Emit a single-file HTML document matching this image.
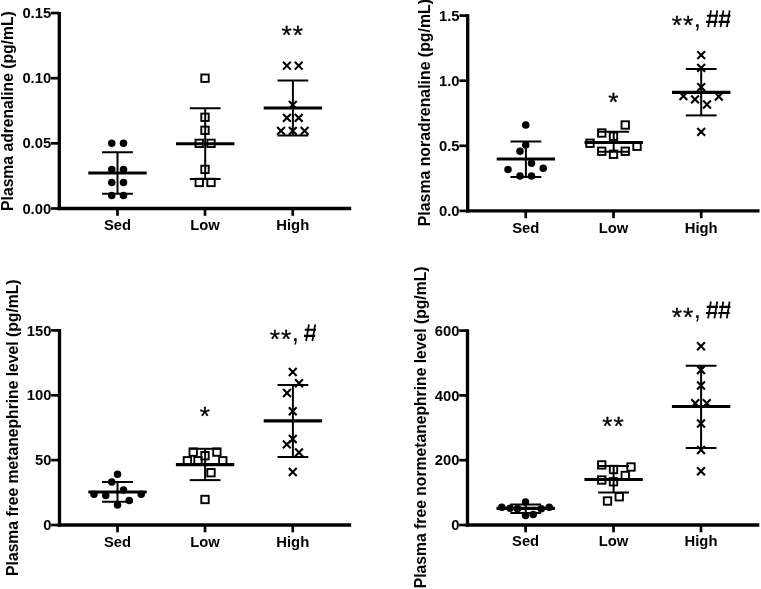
<!DOCTYPE html>
<html><head><meta charset="utf-8"><title>Plasma catecholamines</title>
<style>
html,body{margin:0;padding:0;background:#fff;}
body{width:761px;height:589px;overflow:hidden;}
svg{display:block;will-change:transform;filter:grayscale(1);font-family:"Liberation Sans",sans-serif;fill:#000;}
</style></head><body>
<svg width="761" height="589" viewBox="0 0 761 589">
<rect width="761" height="589" fill="#fff"/>
<line x1="59.30" y1="11.95" x2="59.30" y2="210.15" stroke="#000" stroke-width="3.3" stroke-linecap="butt"/>
<line x1="57.65" y1="208.50" x2="351.20" y2="208.50" stroke="#000" stroke-width="3.3" stroke-linecap="butt"/>
<line x1="51.00" y1="13.05" x2="59.30" y2="13.05" stroke="#000" stroke-width="2.7" stroke-linecap="butt"/>
<text x="51.20" y="18.15" font-size="14.8" font-weight="bold" text-anchor="end" >0.15</text>
<line x1="51.00" y1="78.20" x2="59.30" y2="78.20" stroke="#000" stroke-width="2.7" stroke-linecap="butt"/>
<text x="51.20" y="83.30" font-size="14.8" font-weight="bold" text-anchor="end" >0.10</text>
<line x1="51.00" y1="143.35" x2="59.30" y2="143.35" stroke="#000" stroke-width="2.7" stroke-linecap="butt"/>
<text x="51.20" y="148.45" font-size="14.8" font-weight="bold" text-anchor="end" >0.05</text>
<line x1="51.00" y1="208.50" x2="59.30" y2="208.50" stroke="#000" stroke-width="2.7" stroke-linecap="butt"/>
<text x="51.20" y="213.60" font-size="14.8" font-weight="bold" text-anchor="end" >0.00</text>
<line x1="117.50" y1="208.50" x2="117.50" y2="215.80" stroke="#000" stroke-width="2.7" stroke-linecap="butt"/>
<text x="117.50" y="230.20" font-size="14.8" font-weight="bold" text-anchor="middle" >Sed</text>
<line x1="205.00" y1="208.50" x2="205.00" y2="215.80" stroke="#000" stroke-width="2.7" stroke-linecap="butt"/>
<text x="205.00" y="230.20" font-size="14.8" font-weight="bold" text-anchor="middle" >Low</text>
<line x1="292.75" y1="208.50" x2="292.75" y2="215.80" stroke="#000" stroke-width="2.7" stroke-linecap="butt"/>
<text x="292.75" y="230.20" font-size="14.8" font-weight="bold" text-anchor="middle" >High</text>
<text transform="translate(13.20,210.90) rotate(-90)" font-size="15.7" font-weight="bold" text-anchor="start">Plasma adrenaline (pg/mL)</text>
<line x1="117.50" y1="152.25" x2="117.50" y2="193.75" stroke="#000" stroke-width="2.0" stroke-linecap="butt"/>
<line x1="102.10" y1="152.25" x2="132.90" y2="152.25" stroke="#000" stroke-width="2.0" stroke-linecap="butt"/>
<line x1="102.10" y1="193.75" x2="132.90" y2="193.75" stroke="#000" stroke-width="2.0" stroke-linecap="butt"/>
<line x1="88.30" y1="173.00" x2="146.70" y2="173.00" stroke="#000" stroke-width="3.2" stroke-linecap="butt"/>
<circle cx="111.75" cy="143.35" r="3.75" fill="#000"/>
<circle cx="123.50" cy="143.35" r="3.75" fill="#000"/>
<circle cx="111.75" cy="169.41" r="3.75" fill="#000"/>
<circle cx="123.50" cy="169.41" r="3.75" fill="#000"/>
<circle cx="111.75" cy="182.44" r="3.75" fill="#000"/>
<circle cx="123.50" cy="182.44" r="3.75" fill="#000"/>
<circle cx="111.75" cy="195.47" r="3.75" fill="#000"/>
<circle cx="123.50" cy="195.47" r="3.75" fill="#000"/>
<line x1="205.20" y1="108.25" x2="205.20" y2="179.00" stroke="#000" stroke-width="2.0" stroke-linecap="butt"/>
<line x1="189.80" y1="108.25" x2="220.60" y2="108.25" stroke="#000" stroke-width="2.0" stroke-linecap="butt"/>
<line x1="189.80" y1="179.00" x2="220.60" y2="179.00" stroke="#000" stroke-width="2.0" stroke-linecap="butt"/>
<line x1="176.00" y1="143.75" x2="234.40" y2="143.75" stroke="#000" stroke-width="3.2" stroke-linecap="butt"/>
<rect x="201.30" y="74.50" width="7.4" height="7.4" fill="none" stroke="#000" stroke-width="1.9"/>
<rect x="201.30" y="113.59" width="7.4" height="7.4" fill="none" stroke="#000" stroke-width="1.9"/>
<rect x="201.30" y="126.62" width="7.4" height="7.4" fill="none" stroke="#000" stroke-width="1.9"/>
<rect x="195.55" y="139.65" width="7.4" height="7.4" fill="none" stroke="#000" stroke-width="1.9"/>
<rect x="207.30" y="139.65" width="7.4" height="7.4" fill="none" stroke="#000" stroke-width="1.9"/>
<rect x="201.30" y="165.71" width="7.4" height="7.4" fill="none" stroke="#000" stroke-width="1.9"/>
<rect x="195.55" y="178.74" width="7.4" height="7.4" fill="none" stroke="#000" stroke-width="1.9"/>
<rect x="207.30" y="178.74" width="7.4" height="7.4" fill="none" stroke="#000" stroke-width="1.9"/>
<line x1="292.90" y1="80.50" x2="292.90" y2="135.50" stroke="#000" stroke-width="2.0" stroke-linecap="butt"/>
<line x1="277.50" y1="80.50" x2="308.30" y2="80.50" stroke="#000" stroke-width="2.0" stroke-linecap="butt"/>
<line x1="277.50" y1="135.50" x2="308.30" y2="135.50" stroke="#000" stroke-width="2.0" stroke-linecap="butt"/>
<line x1="263.70" y1="108.00" x2="322.10" y2="108.00" stroke="#000" stroke-width="3.2" stroke-linecap="butt"/>
<path d="M283.00 61.82L290.80 69.62M283.00 69.62L290.80 61.82" stroke="#000" stroke-width="2.1" fill="none"/>
<path d="M294.80 61.82L302.60 69.62M294.80 69.62L302.60 61.82" stroke="#000" stroke-width="2.1" fill="none"/>
<path d="M288.90 100.91L296.70 108.71M288.90 108.71L296.70 100.91" stroke="#000" stroke-width="2.1" fill="none"/>
<path d="M283.00 113.94L290.80 121.74M283.00 121.74L290.80 113.94" stroke="#000" stroke-width="2.1" fill="none"/>
<path d="M294.80 113.94L302.60 121.74M294.80 121.74L302.60 113.94" stroke="#000" stroke-width="2.1" fill="none"/>
<path d="M277.10 126.97L284.90 134.77M277.10 134.77L284.90 126.97" stroke="#000" stroke-width="2.1" fill="none"/>
<path d="M288.90 126.97L296.70 134.77M288.90 134.77L296.70 126.97" stroke="#000" stroke-width="2.1" fill="none"/>
<path d="M300.70 126.97L308.50 134.77M300.70 134.77L308.50 126.97" stroke="#000" stroke-width="2.1" fill="none"/>
<line x1="467.70" y1="14.25" x2="467.70" y2="212.55" stroke="#000" stroke-width="3.3" stroke-linecap="butt"/>
<line x1="466.05" y1="210.90" x2="759.50" y2="210.90" stroke="#000" stroke-width="3.3" stroke-linecap="butt"/>
<line x1="459.40" y1="15.60" x2="467.70" y2="15.60" stroke="#000" stroke-width="2.7" stroke-linecap="butt"/>
<text x="459.60" y="20.70" font-size="14.8" font-weight="bold" text-anchor="end" >1.5</text>
<line x1="459.40" y1="80.70" x2="467.70" y2="80.70" stroke="#000" stroke-width="2.7" stroke-linecap="butt"/>
<text x="459.60" y="85.80" font-size="14.8" font-weight="bold" text-anchor="end" >1.0</text>
<line x1="459.40" y1="145.80" x2="467.70" y2="145.80" stroke="#000" stroke-width="2.7" stroke-linecap="butt"/>
<text x="459.60" y="150.90" font-size="14.8" font-weight="bold" text-anchor="end" >0.5</text>
<line x1="459.40" y1="210.90" x2="467.70" y2="210.90" stroke="#000" stroke-width="2.7" stroke-linecap="butt"/>
<text x="459.60" y="216.00" font-size="14.8" font-weight="bold" text-anchor="end" >0.0</text>
<line x1="525.75" y1="210.90" x2="525.75" y2="218.20" stroke="#000" stroke-width="2.7" stroke-linecap="butt"/>
<text x="525.75" y="232.80" font-size="14.8" font-weight="bold" text-anchor="middle" >Sed</text>
<line x1="613.50" y1="210.90" x2="613.50" y2="218.20" stroke="#000" stroke-width="2.7" stroke-linecap="butt"/>
<text x="613.50" y="232.80" font-size="14.8" font-weight="bold" text-anchor="middle" >Low</text>
<line x1="701.20" y1="210.90" x2="701.20" y2="218.20" stroke="#000" stroke-width="2.7" stroke-linecap="butt"/>
<text x="701.20" y="232.80" font-size="14.8" font-weight="bold" text-anchor="middle" >High</text>
<text transform="translate(429.50,226.20) rotate(-90)" font-size="15.85" font-weight="bold" text-anchor="start">Plasma noradrenaline (pg/mL)</text>
<line x1="525.90" y1="141.50" x2="525.90" y2="177.00" stroke="#000" stroke-width="2.0" stroke-linecap="butt"/>
<line x1="510.50" y1="141.50" x2="541.30" y2="141.50" stroke="#000" stroke-width="2.0" stroke-linecap="butt"/>
<line x1="510.50" y1="177.00" x2="541.30" y2="177.00" stroke="#000" stroke-width="2.0" stroke-linecap="butt"/>
<line x1="496.70" y1="159.00" x2="555.10" y2="159.00" stroke="#000" stroke-width="3.2" stroke-linecap="butt"/>
<circle cx="525.75" cy="125.00" r="3.75" fill="#000"/>
<circle cx="525.75" cy="145.00" r="3.75" fill="#000"/>
<circle cx="520.00" cy="151.25" r="3.75" fill="#000"/>
<circle cx="531.50" cy="163.25" r="3.75" fill="#000"/>
<circle cx="508.00" cy="169.50" r="3.75" fill="#000"/>
<circle cx="543.25" cy="168.25" r="3.75" fill="#000"/>
<circle cx="520.00" cy="176.00" r="3.75" fill="#000"/>
<circle cx="531.50" cy="176.00" r="3.75" fill="#000"/>
<line x1="613.70" y1="131.75" x2="613.70" y2="151.75" stroke="#000" stroke-width="2.0" stroke-linecap="butt"/>
<line x1="598.30" y1="131.75" x2="629.10" y2="131.75" stroke="#000" stroke-width="2.0" stroke-linecap="butt"/>
<line x1="598.30" y1="151.75" x2="629.10" y2="151.75" stroke="#000" stroke-width="2.0" stroke-linecap="butt"/>
<line x1="584.50" y1="142.50" x2="642.90" y2="142.50" stroke="#000" stroke-width="3.2" stroke-linecap="butt"/>
<rect x="621.55" y="121.30" width="7.4" height="7.4" fill="none" stroke="#000" stroke-width="1.9"/>
<rect x="598.05" y="129.30" width="7.4" height="7.4" fill="none" stroke="#000" stroke-width="1.9"/>
<rect x="609.80" y="132.55" width="7.4" height="7.4" fill="none" stroke="#000" stroke-width="1.9"/>
<rect x="586.30" y="139.55" width="7.4" height="7.4" fill="none" stroke="#000" stroke-width="1.9"/>
<rect x="633.30" y="142.55" width="7.4" height="7.4" fill="none" stroke="#000" stroke-width="1.9"/>
<rect x="598.05" y="147.55" width="7.4" height="7.4" fill="none" stroke="#000" stroke-width="1.9"/>
<rect x="621.55" y="147.55" width="7.4" height="7.4" fill="none" stroke="#000" stroke-width="1.9"/>
<rect x="609.80" y="150.55" width="7.4" height="7.4" fill="none" stroke="#000" stroke-width="1.9"/>
<line x1="701.20" y1="69.00" x2="701.20" y2="115.40" stroke="#000" stroke-width="2.0" stroke-linecap="butt"/>
<line x1="685.80" y1="69.00" x2="716.60" y2="69.00" stroke="#000" stroke-width="2.0" stroke-linecap="butt"/>
<line x1="685.80" y1="115.40" x2="716.60" y2="115.40" stroke="#000" stroke-width="2.0" stroke-linecap="butt"/>
<line x1="672.00" y1="92.40" x2="730.40" y2="92.40" stroke="#000" stroke-width="3.2" stroke-linecap="butt"/>
<path d="M697.30 51.25L705.10 59.05M697.30 59.05L705.10 51.25" stroke="#000" stroke-width="2.1" fill="none"/>
<path d="M697.30 64.00L705.10 71.80M697.30 71.80L705.10 64.00" stroke="#000" stroke-width="2.1" fill="none"/>
<path d="M697.30 83.30L705.10 91.10M697.30 91.10L705.10 83.30" stroke="#000" stroke-width="2.1" fill="none"/>
<path d="M679.50 92.20L687.30 100.00M679.50 100.00L687.30 92.20" stroke="#000" stroke-width="2.1" fill="none"/>
<path d="M714.90 92.60L722.70 100.40M714.90 100.40L722.70 92.60" stroke="#000" stroke-width="2.1" fill="none"/>
<path d="M691.10 95.40L698.90 103.20M691.10 103.20L698.90 95.40" stroke="#000" stroke-width="2.1" fill="none"/>
<path d="M703.10 100.60L710.90 108.40M703.10 108.40L710.90 100.60" stroke="#000" stroke-width="2.1" fill="none"/>
<path d="M697.30 127.90L705.10 135.70M697.30 135.70L705.10 127.90" stroke="#000" stroke-width="2.1" fill="none"/>
<line x1="59.50" y1="329.05" x2="59.50" y2="526.65" stroke="#000" stroke-width="3.3" stroke-linecap="butt"/>
<line x1="57.85" y1="525.00" x2="351.20" y2="525.00" stroke="#000" stroke-width="3.3" stroke-linecap="butt"/>
<line x1="51.20" y1="330.40" x2="59.50" y2="330.40" stroke="#000" stroke-width="2.7" stroke-linecap="butt"/>
<text x="51.40" y="335.50" font-size="14.8" font-weight="bold" text-anchor="end" >150</text>
<line x1="51.20" y1="395.30" x2="59.50" y2="395.30" stroke="#000" stroke-width="2.7" stroke-linecap="butt"/>
<text x="51.40" y="400.40" font-size="14.8" font-weight="bold" text-anchor="end" >100</text>
<line x1="51.20" y1="460.10" x2="59.50" y2="460.10" stroke="#000" stroke-width="2.7" stroke-linecap="butt"/>
<text x="51.40" y="465.20" font-size="14.8" font-weight="bold" text-anchor="end" >50</text>
<line x1="51.20" y1="525.00" x2="59.50" y2="525.00" stroke="#000" stroke-width="2.7" stroke-linecap="butt"/>
<text x="51.40" y="530.10" font-size="14.8" font-weight="bold" text-anchor="end" >0</text>
<line x1="117.50" y1="525.00" x2="117.50" y2="532.30" stroke="#000" stroke-width="2.7" stroke-linecap="butt"/>
<text x="117.50" y="546.60" font-size="14.8" font-weight="bold" text-anchor="middle" >Sed</text>
<line x1="205.00" y1="525.00" x2="205.00" y2="532.30" stroke="#000" stroke-width="2.7" stroke-linecap="butt"/>
<text x="205.00" y="546.60" font-size="14.8" font-weight="bold" text-anchor="middle" >Low</text>
<line x1="292.75" y1="525.00" x2="292.75" y2="532.30" stroke="#000" stroke-width="2.7" stroke-linecap="butt"/>
<text x="292.75" y="546.60" font-size="14.8" font-weight="bold" text-anchor="middle" >High</text>
<text transform="translate(17.80,575.90) rotate(-90)" font-size="15.7" font-weight="bold" text-anchor="start">Plasma free metanephrine level (pg/mL)</text>
<line x1="117.50" y1="482.00" x2="117.50" y2="501.75" stroke="#000" stroke-width="2.0" stroke-linecap="butt"/>
<line x1="102.10" y1="482.00" x2="132.90" y2="482.00" stroke="#000" stroke-width="2.0" stroke-linecap="butt"/>
<line x1="102.10" y1="501.75" x2="132.90" y2="501.75" stroke="#000" stroke-width="2.0" stroke-linecap="butt"/>
<line x1="88.30" y1="492.00" x2="146.70" y2="492.00" stroke="#000" stroke-width="3.2" stroke-linecap="butt"/>
<circle cx="117.50" cy="474.25" r="3.75" fill="#000"/>
<circle cx="111.75" cy="482.00" r="3.75" fill="#000"/>
<circle cx="123.50" cy="490.00" r="3.75" fill="#000"/>
<circle cx="94.00" cy="494.25" r="3.75" fill="#000"/>
<circle cx="141.25" cy="494.25" r="3.75" fill="#000"/>
<circle cx="105.75" cy="495.50" r="3.75" fill="#000"/>
<circle cx="129.25" cy="500.50" r="3.75" fill="#000"/>
<circle cx="117.50" cy="505.00" r="3.75" fill="#000"/>
<line x1="205.10" y1="448.80" x2="205.10" y2="480.10" stroke="#000" stroke-width="2.0" stroke-linecap="butt"/>
<line x1="189.70" y1="448.80" x2="220.50" y2="448.80" stroke="#000" stroke-width="2.0" stroke-linecap="butt"/>
<line x1="189.70" y1="480.10" x2="220.50" y2="480.10" stroke="#000" stroke-width="2.0" stroke-linecap="butt"/>
<line x1="175.90" y1="464.70" x2="234.30" y2="464.70" stroke="#000" stroke-width="3.2" stroke-linecap="butt"/>
<rect x="189.50" y="448.40" width="7.4" height="7.4" fill="none" stroke="#000" stroke-width="1.9"/>
<rect x="213.20" y="448.40" width="7.4" height="7.4" fill="none" stroke="#000" stroke-width="1.9"/>
<rect x="201.30" y="452.00" width="7.4" height="7.4" fill="none" stroke="#000" stroke-width="1.9"/>
<rect x="183.70" y="457.10" width="7.4" height="7.4" fill="none" stroke="#000" stroke-width="1.9"/>
<rect x="194.30" y="457.10" width="7.4" height="7.4" fill="none" stroke="#000" stroke-width="1.9"/>
<rect x="219.10" y="457.10" width="7.4" height="7.4" fill="none" stroke="#000" stroke-width="1.9"/>
<rect x="207.30" y="469.00" width="7.4" height="7.4" fill="none" stroke="#000" stroke-width="1.9"/>
<rect x="201.30" y="495.80" width="7.4" height="7.4" fill="none" stroke="#000" stroke-width="1.9"/>
<line x1="292.90" y1="385.00" x2="292.90" y2="457.00" stroke="#000" stroke-width="2.0" stroke-linecap="butt"/>
<line x1="277.50" y1="385.00" x2="308.30" y2="385.00" stroke="#000" stroke-width="2.0" stroke-linecap="butt"/>
<line x1="277.50" y1="457.00" x2="308.30" y2="457.00" stroke="#000" stroke-width="2.0" stroke-linecap="butt"/>
<line x1="263.70" y1="420.90" x2="322.10" y2="420.90" stroke="#000" stroke-width="3.2" stroke-linecap="butt"/>
<path d="M288.85 368.10L296.65 375.90M288.85 375.90L296.65 368.10" stroke="#000" stroke-width="2.1" fill="none"/>
<path d="M295.10 379.35L302.90 387.15M295.10 387.15L302.90 379.35" stroke="#000" stroke-width="2.1" fill="none"/>
<path d="M283.10 389.10L290.90 396.90M283.10 396.90L290.90 389.10" stroke="#000" stroke-width="2.1" fill="none"/>
<path d="M288.85 407.35L296.65 415.15M288.85 415.15L296.65 407.35" stroke="#000" stroke-width="2.1" fill="none"/>
<path d="M288.85 435.10L296.65 442.90M288.85 442.90L296.65 435.10" stroke="#000" stroke-width="2.1" fill="none"/>
<path d="M282.90 440.50L290.70 448.30M282.90 448.30L290.70 440.50" stroke="#000" stroke-width="2.1" fill="none"/>
<path d="M295.10 448.60L302.90 456.40M295.10 456.40L302.90 448.60" stroke="#000" stroke-width="2.1" fill="none"/>
<path d="M288.85 468.10L296.65 475.90M288.85 475.90L296.65 468.10" stroke="#000" stroke-width="2.1" fill="none"/>
<line x1="467.50" y1="329.25" x2="467.50" y2="526.65" stroke="#000" stroke-width="3.3" stroke-linecap="butt"/>
<line x1="465.85" y1="525.00" x2="759.30" y2="525.00" stroke="#000" stroke-width="3.3" stroke-linecap="butt"/>
<line x1="459.20" y1="330.60" x2="467.50" y2="330.60" stroke="#000" stroke-width="2.7" stroke-linecap="butt"/>
<text x="459.50" y="335.70" font-size="14.8" font-weight="bold" text-anchor="end" >600</text>
<line x1="459.20" y1="395.40" x2="467.50" y2="395.40" stroke="#000" stroke-width="2.7" stroke-linecap="butt"/>
<text x="459.50" y="400.50" font-size="14.8" font-weight="bold" text-anchor="end" >400</text>
<line x1="459.20" y1="460.20" x2="467.50" y2="460.20" stroke="#000" stroke-width="2.7" stroke-linecap="butt"/>
<text x="459.50" y="465.30" font-size="14.8" font-weight="bold" text-anchor="end" >200</text>
<line x1="459.20" y1="525.00" x2="467.50" y2="525.00" stroke="#000" stroke-width="2.7" stroke-linecap="butt"/>
<text x="459.50" y="530.10" font-size="14.8" font-weight="bold" text-anchor="end" >0</text>
<line x1="525.60" y1="525.00" x2="525.60" y2="532.30" stroke="#000" stroke-width="2.7" stroke-linecap="butt"/>
<text x="525.60" y="546.20" font-size="14.8" font-weight="bold" text-anchor="middle" >Sed</text>
<line x1="613.50" y1="525.00" x2="613.50" y2="532.30" stroke="#000" stroke-width="2.7" stroke-linecap="butt"/>
<text x="613.50" y="546.20" font-size="14.8" font-weight="bold" text-anchor="middle" >Low</text>
<line x1="701.00" y1="525.00" x2="701.00" y2="532.30" stroke="#000" stroke-width="2.7" stroke-linecap="butt"/>
<text x="701.00" y="546.20" font-size="14.8" font-weight="bold" text-anchor="middle" >High</text>
<text transform="translate(426.40,588.20) rotate(-90)" font-size="15.7" font-weight="bold" text-anchor="start">Plasma free normetanephrine level (pg/mL)</text>
<line x1="525.70" y1="504.50" x2="525.70" y2="513.00" stroke="#000" stroke-width="2.0" stroke-linecap="butt"/>
<line x1="510.30" y1="504.50" x2="541.10" y2="504.50" stroke="#000" stroke-width="2.0" stroke-linecap="butt"/>
<line x1="510.30" y1="513.00" x2="541.10" y2="513.00" stroke="#000" stroke-width="2.0" stroke-linecap="butt"/>
<line x1="496.50" y1="508.40" x2="554.90" y2="508.40" stroke="#000" stroke-width="3.2" stroke-linecap="butt"/>
<circle cx="525.50" cy="502.10" r="3.75" fill="#000"/>
<circle cx="501.80" cy="507.30" r="3.75" fill="#000"/>
<circle cx="549.20" cy="507.30" r="3.75" fill="#000"/>
<circle cx="510.00" cy="508.20" r="3.75" fill="#000"/>
<circle cx="517.50" cy="508.70" r="3.75" fill="#000"/>
<circle cx="541.25" cy="508.70" r="3.75" fill="#000"/>
<circle cx="525.50" cy="515.40" r="3.75" fill="#000"/>
<circle cx="533.20" cy="514.40" r="3.75" fill="#000"/>
<line x1="613.60" y1="466.00" x2="613.60" y2="492.50" stroke="#000" stroke-width="2.0" stroke-linecap="butt"/>
<line x1="598.20" y1="466.00" x2="629.00" y2="466.00" stroke="#000" stroke-width="2.0" stroke-linecap="butt"/>
<line x1="598.20" y1="492.50" x2="629.00" y2="492.50" stroke="#000" stroke-width="2.0" stroke-linecap="butt"/>
<line x1="584.40" y1="479.50" x2="642.80" y2="479.50" stroke="#000" stroke-width="3.2" stroke-linecap="butt"/>
<rect x="598.05" y="461.20" width="7.4" height="7.4" fill="none" stroke="#000" stroke-width="1.9"/>
<rect x="627.30" y="463.30" width="7.4" height="7.4" fill="none" stroke="#000" stroke-width="1.9"/>
<rect x="609.80" y="465.80" width="7.4" height="7.4" fill="none" stroke="#000" stroke-width="1.9"/>
<rect x="621.55" y="471.80" width="7.4" height="7.4" fill="none" stroke="#000" stroke-width="1.9"/>
<rect x="598.05" y="476.30" width="7.4" height="7.4" fill="none" stroke="#000" stroke-width="1.9"/>
<rect x="609.80" y="478.05" width="7.4" height="7.4" fill="none" stroke="#000" stroke-width="1.9"/>
<rect x="615.55" y="493.05" width="7.4" height="7.4" fill="none" stroke="#000" stroke-width="1.9"/>
<rect x="603.80" y="497.30" width="7.4" height="7.4" fill="none" stroke="#000" stroke-width="1.9"/>
<line x1="701.10" y1="365.75" x2="701.10" y2="448.00" stroke="#000" stroke-width="2.0" stroke-linecap="butt"/>
<line x1="685.70" y1="365.75" x2="716.50" y2="365.75" stroke="#000" stroke-width="2.0" stroke-linecap="butt"/>
<line x1="685.70" y1="448.00" x2="716.50" y2="448.00" stroke="#000" stroke-width="2.0" stroke-linecap="butt"/>
<line x1="671.90" y1="406.50" x2="730.30" y2="406.50" stroke="#000" stroke-width="3.2" stroke-linecap="butt"/>
<path d="M697.10 342.35L704.90 350.15M697.10 350.15L704.90 342.35" stroke="#000" stroke-width="2.1" fill="none"/>
<path d="M697.10 366.10L704.90 373.90M697.10 373.90L704.90 366.10" stroke="#000" stroke-width="2.1" fill="none"/>
<path d="M697.10 381.60L704.90 389.40M697.10 389.40L704.90 381.60" stroke="#000" stroke-width="2.1" fill="none"/>
<path d="M691.35 399.35L699.15 407.15M691.35 407.15L699.15 399.35" stroke="#000" stroke-width="2.1" fill="none"/>
<path d="M702.85 399.35L710.65 407.15M702.85 407.15L710.65 399.35" stroke="#000" stroke-width="2.1" fill="none"/>
<path d="M697.10 419.60L704.90 427.40M697.10 427.40L704.90 419.60" stroke="#000" stroke-width="2.1" fill="none"/>
<path d="M697.10 446.10L704.90 453.90M697.10 453.90L704.90 446.10" stroke="#000" stroke-width="2.1" fill="none"/>
<path d="M697.10 467.35L704.90 475.15M697.10 475.15L704.90 467.35" stroke="#000" stroke-width="2.1" fill="none"/>
<text x="281.47" y="43.85" font-size="26.3" font-weight="normal" text-anchor="start" letter-spacing="1.0" stroke="#000" stroke-width="0.3">**</text>
<text x="608.17" y="111.25" font-size="26.3" font-weight="normal" text-anchor="start" letter-spacing="1.0" stroke="#000" stroke-width="0.3">*</text>
<text x="671.77" y="34.35" font-size="26.3" font-weight="normal" text-anchor="start" letter-spacing="1.0" stroke="#000" stroke-width="0.3">**</text>
<text x="693.86" y="26.56" font-size="26" font-weight="normal" text-anchor="start">,</text>
<path d="M708.20 27.10L711.00 10.30M714.50 27.10L717.30 10.30" stroke="#000" stroke-width="1.75" fill="none"/>
<path d="M706.90 15.70H718.10M706.10 21.80H717.30" stroke="#000" stroke-width="2.15" fill="none"/>
<path d="M720.60 27.10L723.40 10.30M726.90 27.10L729.70 10.30" stroke="#000" stroke-width="1.75" fill="none"/>
<path d="M719.30 15.70H730.50M718.50 21.80H729.70" stroke="#000" stroke-width="2.15" fill="none"/>
<text x="199.77" y="425.05" font-size="26.3" font-weight="normal" text-anchor="start" letter-spacing="1.0" stroke="#000" stroke-width="0.3">*</text>
<text x="269.67" y="348.35" font-size="26.3" font-weight="normal" text-anchor="start" letter-spacing="1.0" stroke="#000" stroke-width="0.3">**</text>
<text x="291.76" y="340.56" font-size="26" font-weight="normal" text-anchor="start">,</text>
<path d="M306.10 341.10L308.90 324.30M312.40 341.10L315.20 324.30" stroke="#000" stroke-width="1.75" fill="none"/>
<path d="M304.80 329.70H316.00M304.00 335.80H315.20" stroke="#000" stroke-width="2.15" fill="none"/>
<text x="602.37" y="434.75" font-size="26.3" font-weight="normal" text-anchor="start" letter-spacing="1.0" stroke="#000" stroke-width="0.3">**</text>
<text x="671.67" y="325.55" font-size="26.3" font-weight="normal" text-anchor="start" letter-spacing="1.0" stroke="#000" stroke-width="0.3">**</text>
<text x="693.76" y="317.76" font-size="26" font-weight="normal" text-anchor="start">,</text>
<path d="M708.10 318.30L710.90 301.50M714.40 318.30L717.20 301.50" stroke="#000" stroke-width="1.75" fill="none"/>
<path d="M706.80 306.90H718.00M706.00 313.00H717.20" stroke="#000" stroke-width="2.15" fill="none"/>
<path d="M720.50 318.30L723.30 301.50M726.80 318.30L729.60 301.50" stroke="#000" stroke-width="1.75" fill="none"/>
<path d="M719.20 306.90H730.40M718.40 313.00H729.60" stroke="#000" stroke-width="2.15" fill="none"/>
</svg>
</body></html>
